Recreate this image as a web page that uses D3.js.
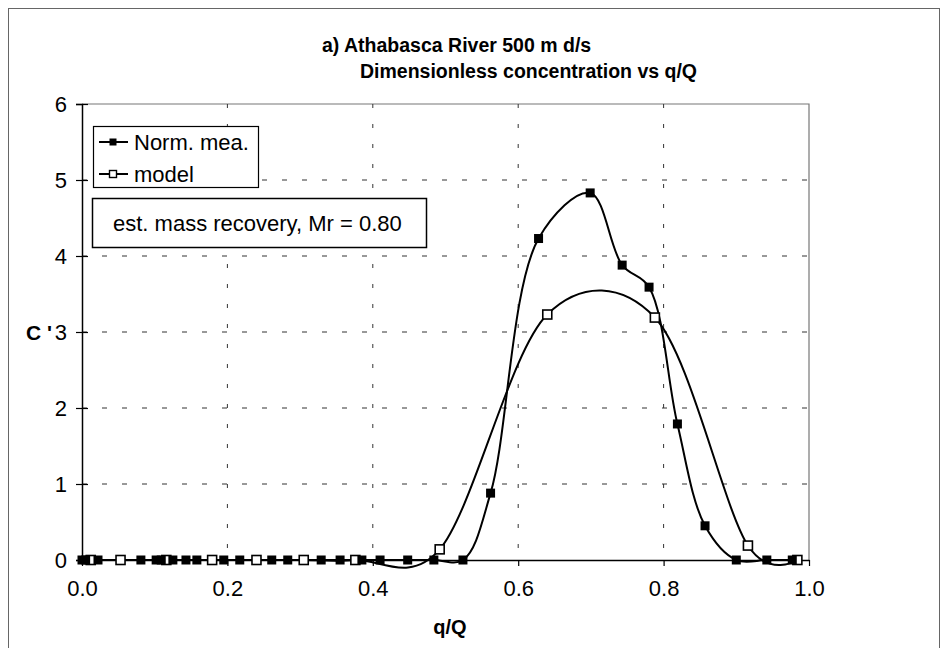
<!DOCTYPE html>
<html>
<head>
  <meta charset="utf-8">
  <title>Athabasca River 500 m d/s</title>
  <script src="https://cdn.jsdelivr.net/npm/d3@7"></script>
  <style>
    body { margin: 0; background: #fff; }
    text { font-family: "Liberation Sans", Arial, Helvetica, sans-serif; }
  </style>
</head>
<body>
  <div id="myChart"></div>
  <script>
    // Normalised measured concentration (filled squares)
    const meaQ = [0.000, 0.005, 0.022, 0.081, 0.102, 0.109, 0.125, 0.143, 0.158, 0.195, 0.217,
                  0.261, 0.283, 0.329, 0.355, 0.385, 0.410, 0.448, 0.484, 0.524, 0.562, 0.628,
                  0.699, 0.743, 0.780, 0.819, 0.857, 0.900, 0.942, 0.977];
    const meaC = [0, 0, 0, 0, 0, 0, 0, 0, 0, 0, 0,
                  0, 0, 0, 0, 0, 0, 0, 0, 0, 0.88, 4.23,
                  4.83, 3.88, 3.59, 1.79, 0.45, 0, 0, 0];

    // Model (open squares)
    const modQ = [0.012, 0.053, 0.116, 0.179, 0.240, 0.305, 0.376, 0.492, 0.640, 0.788, 0.916, 0.984];
    const modC = [0, 0, 0, 0, 0, 0, 0, 0.14, 3.23, 3.19, 0.19, 0];

    const xTicks = [0, 0.2, 0.4, 0.6, 0.8, 1.0];
    const yTicks = [0, 1, 2, 3, 4, 5, 6];
    const titleLines = ["a) Athabasca River 500 m d/s", "Dimensionless concentration vs q/Q"];
    const seriesNames = ["Norm. mea.", "model"];
    const noteText = "est. mass recovery, Mr = 0.80";

    const width = 947;
    const height = 648;
    const plot = { left: 82, right: 809, top: 104, bottom: 560 };

    const x = d3.scaleLinear().domain([0, 1]).range([plot.left, plot.right]);
    const y = d3.scaleLinear().domain([0, 6]).range([plot.bottom, plot.top]);

    const svg = d3.select("#myChart").append("svg")
        .attr("width", width)
        .attr("height", height);

    // outer frame of the figure
    svg.append("rect")
        .attr("x", 8.5).attr("y", 8.5)
        .attr("width", 931).attr("height", 660)
        .attr("fill", "none")
        .attr("stroke", "#666")
        .attr("stroke-width", 1);

    // title
    svg.append("text")
        .attr("x", 322).attr("y", 52)
        .attr("font-size", 19.5).attr("font-weight", "bold")
        .text(titleLines[0]);
    svg.append("text")
        .attr("x", 360).attr("y", 78)
        .attr("font-size", 19.5).attr("font-weight", "bold")
        .text(titleLines[1]);

    // plot area border (top / right)
    svg.append("path")
        .attr("d", `M${plot.left},${plot.top}H${plot.right}V${plot.bottom}`)
        .attr("fill", "none")
        .attr("stroke", "#777")
        .attr("stroke-width", 1.2);

    // dashed gridlines
    svg.append("g")
      .selectAll("line")
      .data(yTicks.filter(d => d > 0 && d < 6))
      .join("line")
        .attr("x1", plot.left).attr("x2", plot.right)
        .attr("y1", d => y(d)).attr("y2", d => y(d))
        .attr("stroke", "#333")
        .attr("stroke-dasharray", "5,15");
    svg.append("g")
      .selectAll("line")
      .data(xTicks.filter(d => d > 0 && d < 1))
      .join("line")
        .attr("x1", d => x(d)).attr("x2", d => x(d))
        .attr("y1", plot.top).attr("y2", plot.bottom)
        .attr("stroke", "#333")
        .attr("stroke-dasharray", "4,16");

    // y axis (ticks cross the axis line)
    const yAxis = svg.append("g")
        .attr("transform", `translate(${plot.left},0)`)
        .call(d3.axisLeft(y).tickValues(yTicks).tickSize(6).tickPadding(9).tickFormat(d3.format("d")));
    yAxis.selectAll(".tick line").attr("x2", 6).attr("x1", -6).attr("stroke-width", 1.2);
    yAxis.select(".domain").attr("stroke-width", 1.5);
    yAxis.selectAll(".tick text")
        .attr("font-size", 22)
        .attr("fill", "#000")
        .attr("font-family", "Liberation Sans, Arial, sans-serif");

    // x axis
    const xAxis = svg.append("g")
        .attr("transform", `translate(0,${plot.bottom})`)
        .call(d3.axisBottom(x).tickValues(xTicks).tickSize(6).tickSizeOuter(0).tickPadding(14).tickFormat(d3.format(".1f")));
    xAxis.select(".domain").attr("stroke-width", 1.5);
    xAxis.selectAll(".tick line").attr("stroke-width", 1.2);
    xAxis.selectAll(".tick text")
        .attr("font-size", 22)
        .attr("fill", "#000")
        .attr("font-family", "Liberation Sans, Arial, sans-serif");

    // axis titles
    svg.append("text")
        .attr("x", 450).attr("y", 634)
        .attr("text-anchor", "middle")
        .attr("font-size", 20).attr("font-weight", "bold")
        .text("q/Q");
    svg.append("text")
        .attr("x", 52).attr("y", y(3) + 8)
        .attr("text-anchor", "end")
        .attr("font-size", 21).attr("font-weight", "bold")
        .text("C '");

    // smoothed lines
    const meaLine = d3.line()
        .x(d => x(d[0]))
        .y(d => y(d[1]))
        .curve(d3.curveCatmullRom.alpha(0.5));
    const modLine = d3.line()
        .x(d => x(d[0]))
        .y(d => y(d[1]))
        .curve(d3.curveCatmullRom.alpha(0.1));

    const mea = meaQ.map((q, i) => [q, meaC[i]]);
    const mod = modQ.map((q, i) => [q, modC[i]]);

    svg.append("path")
        .datum(mea)
        .attr("d", meaLine)
        .attr("fill", "none")
        .attr("stroke", "#000")
        .attr("stroke-width", 2);
    svg.append("path")
        .datum(mod)
        .attr("d", modLine)
        .attr("fill", "none")
        .attr("stroke", "#000")
        .attr("stroke-width", 2);

    const ms = 9;
    svg.append("g")
      .selectAll("rect")
      .data(mod)
      .join("rect")
        .attr("x", d => x(d[0]) - ms / 2)
        .attr("y", d => y(d[1]) - ms / 2)
        .attr("width", ms).attr("height", ms)
        .attr("fill", "#fff")
        .attr("stroke", "#000")
        .attr("stroke-width", 1.6);
    svg.append("g")
      .selectAll("rect")
      .data(mea)
      .join("rect")
        .attr("x", d => x(d[0]) - ms / 2)
        .attr("y", d => y(d[1]) - ms / 2)
        .attr("width", ms).attr("height", ms)
        .attr("fill", "#000");

    // legend
    const legend = svg.append("g");
    legend.append("rect")
        .attr("x", 93.5).attr("y", 126.5)
        .attr("width", 165).attr("height", 61)
        .attr("fill", "#fff")
        .attr("stroke", "#000")
        .attr("stroke-width", 1.2);
    seriesNames.forEach((name, i) => {
      const ly = 142 + i * 32;
      legend.append("line")
          .attr("x1", 99).attr("x2", 128)
          .attr("y1", ly).attr("y2", ly)
          .attr("stroke", "#000").attr("stroke-width", 2);
      legend.append("rect")
          .attr("x", 113 - 3.5).attr("y", ly - 3.5)
          .attr("width", 7).attr("height", 7)
          .attr("fill", i === 0 ? "#000" : "#fff")
          .attr("stroke", "#000")
          .attr("stroke-width", i === 0 ? 0 : 1.4);
      legend.append("text")
          .attr("x", 134).attr("y", ly + 8)
          .attr("font-size", 22)
          .text(name);
    });

    // mass recovery note
    svg.append("rect")
        .attr("x", 92.5).attr("y", 198.5)
        .attr("width", 334).attr("height", 49)
        .attr("fill", "#fff")
        .attr("stroke", "#000")
        .attr("stroke-width", 1.5);
    svg.append("text")
        .attr("x", 113).attr("y", 231)
        .attr("font-size", 22)
        .text(noteText);
  </script>
</body>
</html>
